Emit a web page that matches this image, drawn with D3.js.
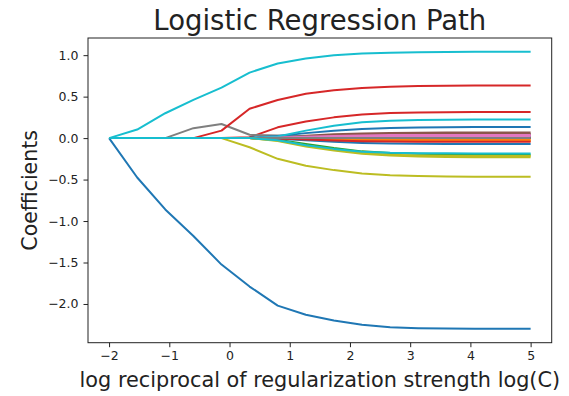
<!DOCTYPE html>
<html>
<head>
<meta charset="utf-8">
<script src="https://cdn.jsdelivr.net/npm/d3@7"></script>
<style>
  body { margin: 0; background: #fff; }
  text { font-family: "DejaVu Sans", sans-serif; fill: #222; }
</style>
</head>
<body>
<div id="chart"></div>
<script>
// log(C) values along the path
var log_c = [-2, -1.533, -1.067, -0.6, -0.133, 0.333, 0.8, 1.267, 1.733, 2.2, 2.667, 3.133, 3.6, 4.067, 4.533, 5];

// one array of coefficients per feature
var coefs = [
  [0, -0.475, -0.86, -1.18, -1.525, -1.79, -2.02, -2.13, -2.2, -2.25, -2.28, -2.292, -2.297, -2.3, -2.3, -2.3],
  [0, 0, 0, 0, 0, 0, -0.005, -0.012, -0.018, -0.022, -0.024, -0.025, -0.025, -0.025, -0.025, -0.025],
  [0, 0, 0, 0, 0, 0, 0, 0.003, 0.006, 0.008, 0.009, 0.01, 0.01, 0.01, 0.01, 0.01],
  [0, 0, 0, 0, 0, 0.01, 0.13, 0.2, 0.25, 0.285, 0.303, 0.31, 0.313, 0.314, 0.315, 0.315],
  [0, 0, 0, 0, 0, 0, 0.005, 0.015, 0.028, 0.037, 0.042, 0.044, 0.045, 0.045, 0.045, 0.045],
  [0, 0, 0, 0, 0, 0, 0.01, 0.028, 0.045, 0.056, 0.062, 0.065, 0.067, 0.067, 0.067, 0.067],
  [0, 0, 0, 0, 0, 0, 0.004, 0.012, 0.02, 0.025, 0.028, 0.03, 0.03, 0.03, 0.03, 0.03],
  [0, 0, 0, 0.12, 0.17, 0.04, 0.03, 0.02, 0.012, 0.008, 0.006, 0.005, 0.005, 0.005, 0.005, 0.005],
  [0, 0, 0, 0, 0, -0.11, -0.25, -0.333, -0.386, -0.426, -0.447, -0.458, -0.463, -0.466, -0.467, -0.467],
  [0, 0.103, 0.3, 0.46, 0.608, 0.79, 0.9, 0.96, 1.0, 1.02, 1.03, 1.035, 1.038, 1.04, 1.04, 1.04],
  [0, 0, 0, 0, 0, 0.005, 0.025, 0.06, 0.09, 0.11, 0.122, 0.128, 0.131, 0.133, 0.134, 0.134],
  [0, 0, 0, 0, 0, 0, -0.005, -0.015, -0.025, -0.03, -0.033, -0.034, -0.035, -0.035, -0.035, -0.035],
  [0, 0, 0, 0, 0, 0, -0.02, -0.07, -0.12, -0.16, -0.18, -0.19, -0.195, -0.198, -0.2, -0.2],
  [0, 0, 0, 0, 0.09, 0.354, 0.46, 0.535, 0.576, 0.604, 0.62, 0.628, 0.632, 0.634, 0.635, 0.635],
  [0, 0, 0, 0, 0, 0, 0.003, 0.008, 0.013, 0.017, 0.019, 0.02, 0.02, 0.02, 0.02, 0.02],
  [0, 0, 0, 0, 0, 0, 0.008, 0.02, 0.034, 0.043, 0.048, 0.05, 0.05, 0.05, 0.05, 0.05],
  [0, 0, 0, 0, 0, 0, 0.005, 0.015, 0.026, 0.032, 0.036, 0.037, 0.038, 0.038, 0.038, 0.038],
  [0, 0, 0, 0, 0, 0, 0, 0, 0, 0, 0, 0, 0, 0, 0, 0],
  [0, 0, 0, 0, 0, 0, -0.03, -0.09, -0.14, -0.18, -0.2, -0.21, -0.214, -0.216, -0.216, -0.216],
  [0, 0, 0, 0, 0, 0, 0.02, 0.09, 0.15, 0.19, 0.21, 0.218, 0.222, 0.224, 0.224, 0.224],
  [0, 0, 0, 0, 0, 0, -0.008, -0.025, -0.045, -0.058, -0.065, -0.069, -0.07, -0.07, -0.07, -0.07],
  [0, 0, 0, 0, 0, 0, -0.003, -0.006, -0.009, -0.011, -0.012, -0.012, -0.012, -0.012, -0.012, -0.012],
  [0, 0, 0, 0, 0, 0, 0.001, 0.002, 0.003, 0.004, 0.005, 0.005, 0.005, 0.005, 0.005, 0.005],
  [0, 0, 0, 0, 0, 0, -0.006, -0.018, -0.03, -0.038, -0.042, -0.044, -0.045, -0.045, -0.045, -0.045],
  [0, 0, 0, 0, 0, 0, 0.002, 0.005, 0.007, 0.009, 0.01, 0.01, 0.01, 0.01, 0.01, 0.01],
  [0, 0, 0, 0, 0, 0, 0, 0, 0, 0, 0, 0, 0, 0, 0, 0],
  [0, 0, 0, 0, 0, 0, 0.003, 0.01, 0.017, 0.021, 0.023, 0.024, 0.025, 0.025, 0.025, 0.025],
  [0, 0, 0, 0, 0, 0, 0, 0, 0, 0, 0, 0, 0, 0, 0, 0],
  [0, 0, 0, 0, 0, 0, -0.035, -0.1, -0.15, -0.19, -0.21, -0.222, -0.228, -0.23, -0.23, -0.23],
  [0, 0, 0, 0, 0, 0, -0.025, -0.085, -0.13, -0.165, -0.178, -0.182, -0.184, -0.185, -0.185, -0.185]
];

var x_ticks = [-2, -1, 0, 1, 2, 3, 4, 5];
var y_ticks = [-2.0, -1.5, -1.0, -0.5, 0.0, 0.5, 1.0];

var width = 569,
    height = 396,
    margin = {top: 38, right: 17.3, bottom: 53.3, left: 88};

var x = d3.scaleLinear()
  .domain([-2.35, 5.35])
  .range([margin.left, width - margin.right]);

var y = d3.scaleLinear()
  .domain([-2.467, 1.207])
  .range([height - margin.bottom, margin.top]);

// matplotlib tab10 colour cycle
var color = d3.scaleOrdinal(d3.schemeCategory10);

var svg = d3.select("#chart").append("svg")
  .attr("width", width)
  .attr("height", height);

var line = d3.line()
  .x(function(d, i) { return x(log_c[i]); })
  .y(function(d) { return y(d); });

svg.append("g")
  .selectAll("path")
  .data(coefs)
  .enter().append("path")
  .attr("d", line)
  .attr("fill", "none")
  .attr("stroke", function(d, i) { return color(i); })
  .attr("stroke-width", 2)
  .attr("stroke-linejoin", "round");

// frame
svg.append("rect")
  .attr("x", margin.left)
  .attr("y", margin.top)
  .attr("width", width - margin.left - margin.right)
  .attr("height", height - margin.top - margin.bottom)
  .attr("fill", "none")
  .attr("stroke", "#222")
  .attr("stroke-width", 1);

var xAxis = svg.append("g")
  .attr("transform", "translate(0," + (height - margin.bottom) + ")")
  .call(d3.axisBottom(x).tickValues(x_ticks).tickSize(4.5).tickPadding(4).tickFormat(d3.format("d")));

var yAxis = svg.append("g")
  .attr("transform", "translate(" + margin.left + ",0)")
  .call(d3.axisLeft(y).tickValues(y_ticks).tickSize(4.5).tickPadding(5).tickFormat(d3.format(".1f")));

[xAxis, yAxis].forEach(function(a) {
  a.select(".domain").remove();
  a.selectAll(".tick line").attr("stroke", "#222");
  a.selectAll(".tick text")
    .style("font-family", "DejaVu Sans, sans-serif")
    .style("font-size", "12.5px")
    .attr("fill", "#222");
});

svg.append("text")
  .attr("x", (margin.left + width - margin.right) / 2)
  .attr("y", 29.5)
  .attr("text-anchor", "middle")
  .style("font-size", "27.5px")
  .text("Logistic Regression Path");

svg.append("text")
  .attr("x", (margin.left + width - margin.right) / 2)
  .attr("y", 387)
  .attr("text-anchor", "middle")
  .style("font-size", "20.8px")
  .text("log reciprocal of regularization strength log(C)");

svg.append("text")
  .attr("transform", "translate(36.5," + ((margin.top + height - margin.bottom) / 2) + ") rotate(-90)")
  .attr("text-anchor", "middle")
  .style("font-size", "20.5px")
  .text("Coefficients");
</script>
</body>
</html>
